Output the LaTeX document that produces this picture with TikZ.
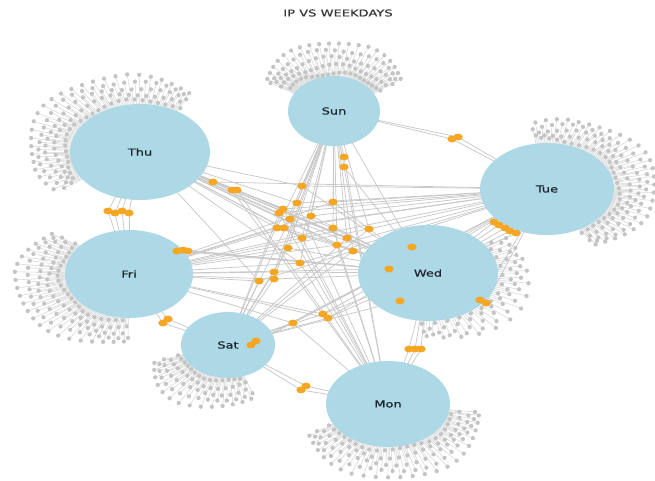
\documentclass[tikz,border=0pt]{standalone}
\usepackage{fontspec}
\setmainfont{DejaVu Sans}
\newfontfamily\labelfont[FakeBold=0.5]{DejaVu Sans}
\usetikzlibrary{shapes.geometric}
\pgfdeclarelayer{background}
\pgfsetlayers{background,main}

\definecolor{daycol}{RGB}{173,216,230}
\definecolor{hubcol}{RGB}{245,166,35}
\definecolor{leafcol}{RGB}{196,196,196}
\definecolor{linkcol}{RGB}{200,200,200}
\definecolor{leaflinkcol}{RGB}{215,215,215}
\definecolor{textcol}{RGB}{30,35,45}
\definecolor{titlecol}{RGB}{55,55,55}

% text is set a little wider than its natural shape
\newcommand\wide[2][1.35]{\scalebox{#1}[1]{#2}}

\tikzset{
  day/.style={ellipse, fill=daycol, draw=none, inner sep=0pt,
    text=textcol, font=\labelfont\fontsize{7.2}{8}\selectfont},
  hub/.style={ellipse, fill=hubcol, draw=none, inner sep=0pt,
    minimum width=7pt, minimum height=5.2pt},
  leaf/.style={circle, fill=leafcol, draw=none, inner sep=0pt, minimum size=3.2pt},
  link/.style={draw=linkcol, line width=0.55pt},
  leaflink/.style={draw=leaflinkcol, line width=0.4pt},
}

% fan of single-visit addresses round one weekday, dome shaped:
% name, cx, cy, first angle, last angle, count-1, inner radius, outer radius
\newcommand\leaffan[8]{%
  \foreach \i in {0,...,#6}{
    \pgfmathsetmacro\fant{(\i+0.5)/(#6+1)}
    \pgfmathsetmacro\fanang{#4+(#5-#4)*\fant}
    \pgfmathsetmacro\fanspan{(#8-#7)*(0.6+0.4*sin(180*\fant))}
    \pgfmathsetmacro\fanrad{#7+\fanspan*mod(2*\i,5)/4+1.5*sin(mod(\i,37)*137)}
    \node[leaf] (#1-l\i) at ({#2+1.45*\fanrad*cos(\fanang)},{#3-\fanrad*sin(\fanang)}) {};
  }}
% spokes from a weekday to its fan: name, count-1
\newcommand\fanlinks[2]{%
  \foreach \i in {0,...,#2}{ \draw[leaflink] (#1.center) -- (#1-l\i.center); }}

% addresses seen on several days: name/x/y/{days}
\def\hublist{
  tf1/108/211/{thu,fri}, tf2/115/213/{thu,fri}, tf3/122/211/{thu,fri}, tf4/129/213/{thu,fri},
  st1/452/139/{sun,tue}, st2/458/137/{sun,tue},
  tw1/494/222/{tue,wed}, tw2/499/225/{tue,wed}, tw3/505/228/{tue,wed},
  tw4/510/231/{tue,wed}, tw5/516/233/{tue,wed},
  wm1/409/349/{wed,mon}, wm2/415/349/{wed,mon}, wm3/421/349/{wed,mon},
  sm1/301/390/{sat,mon}, sm2/306/386/{sat,mon},
  fs1/163/323/{fri,sat}, fs2/168/319/{fri,sat},
  fw1/177/251/{fri,wed}, fw2/183/250/{fri,wed}, fw3/188/251/{fri,wed},
  ww1/480/300/{wed,tue}, ww2/486/303/{wed,tue},
  c1/213/182/{thu,wed,tue},
  c2a/232/190/{thu,wed,mon}, c2b/237/190/{thu,wed,mon},
  c3/302/186/{thu,sun,wed,tue},
  c4/344/157/{sun,mon},
  c5/344/167/{sun,mon,wed},
  c6/297/203/{thu,sun,mon,tue},
  c7/333/202/{sun,fri,tue,wed},
  c8a/283/209/{thu,tue,mon,sat}, c8b/279/213/{thu,tue,mon,sat},
  c9/290/219/{thu,wed,sun,sat},
  c10/311/216/{fri,sun,tue,wed},
  c11a/277/228/{fri,sun,tue,wed,thu}, c11b/284/228/{fri,sun,tue,wed,thu},
  c12/333/228/{fri,thu,wed,sun,mon},
  c13/369/229/{fri,tue,sat,sun},
  c14/302/238/{fri,sun,mon,thu,tue},
  c15/347/238/{thu,wed,sat,sun},
  c16/288/248/{fri,sun,wed,sat},
  c17/337/245/{thu,mon,sun,fri,tue},
  c18/353/251/{thu,wed,sun,sat},
  c19/300/263/{fri,tue,sun,mon,thu},
  c20a/274/272/{fri,wed,sun,sat}, c20b/274/279/{fri,wed,sun,sat},
  c21/259/281/{fri,tue,sat,thu},
  c22a/323/314/{sat,wed,fri,tue}, c22b/328/318/{sat,wed,fri,tue},
  c23/293/323/{sat,tue,fri,mon},
  c24/412/247/{wed,sun},
  c25/389/269/{wed,fri},
  c26/400/301/{wed,sat},
  c27a/251/345/{sat,tue}, c27b/256/341/{sat,tue}}

\begin{document}
\begin{tikzpicture}[x=0.75pt, y=-0.75pt]
\useasboundingbox (0,0) rectangle (655,480);

\node[font=\labelfont\fontsize{7}{8}\selectfont, text=titlecol] (title) at (338,13) {\wide[1.4]{IP VS WEEKDAYS}};

% weekdays
\node[day, minimum width=105pt,   minimum height=72pt]   (thu) at (140,152) {\wide{Thu}};
\node[day, minimum width=69pt,    minimum height=52.5pt] (sun) at (334,111) {\wide{Sun}};
\node[day, minimum width=100.5pt, minimum height=69pt]   (tue) at (547,189) {\wide{Tue}};
\node[day, minimum width=96pt,    minimum height=66pt]   (fri) at (129,274) {\wide{Fri}};
\node[day, minimum width=105pt,   minimum height=72pt]   (wed) at (428,273) {\wide{Wed}};
\node[day, minimum width=70.5pt,  minimum height=49.5pt] (sat) at (228,345) {\wide{Sat}};
\node[day, minimum width=93pt,    minimum height=64.5pt] (mon) at (388,404) {\wide{Mon}};

% addresses seen on one day only
\leaffan{thu}{140}{152}{57}{215}{129}{52}{80}
\leaffan{sun}{334}{111}{32}{148}{99}{38}{69}
\leaffan{tue}{547}{189}{-62}{100}{129}{50}{76}
\leaffan{wed}{428}{273}{-96}{36}{63}{51}{72}
\leaffan{fri}{129}{274}{140}{270}{109}{48}{80}
\leaffan{sat}{228}{345}{196}{290}{69}{36}{66}
\leaffan{mon}{388}{404}{207}{353}{109}{46}{75}

% addresses seen on several days
\foreach \n/\x/\y/\ds in \hublist { \node[hub] (\n) at (\x,\y) {}; }

% all connectors go underneath the discs
\begin{pgfonlayer}{background}
  \fill[white] (0,0) rectangle (655,480);
  \fanlinks{thu}{129}
  \fanlinks{sun}{99}
  \fanlinks{tue}{129}
  \fanlinks{wed}{63}
  \fanlinks{fri}{109}
  \fanlinks{sat}{69}
  \fanlinks{mon}{109}
  \foreach \n/\x/\y/\ds in \hublist {
    \foreach \d in \ds { \draw[link] (\d.center) -- (\n.center); }
  }
\end{pgfonlayer}
\end{tikzpicture}
\end{document}
